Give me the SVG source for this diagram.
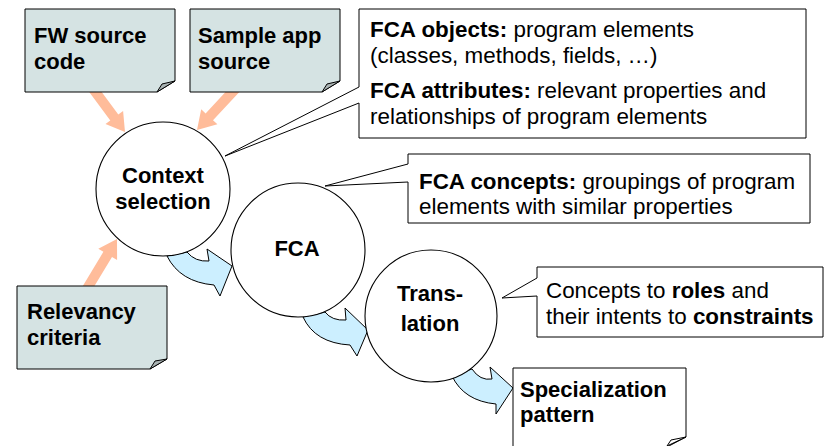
<svg xmlns="http://www.w3.org/2000/svg" width="825" height="446" viewBox="0 0 825 446">
  <style>
    .t { font-family: "Liberation Sans", Arial, sans-serif; font-size: 22px; fill: #000; }
    .c { font-size: 22.4px; }
    .b { font-weight: bold; }
    .note { fill: #d5e3e3; stroke: #000; stroke-width: 1; }
    .fold { fill: #a9b3b3; stroke: #000; stroke-width: 1; }
    .call { fill: #fff; stroke: #000; stroke-width: 1; }
    .circ { fill: #fff; stroke: #000; stroke-width: 1.1; }
    .peach { fill: #ffbc9a; stroke: none; }
    .flow { fill: #ccefff; stroke: #000; stroke-width: 1; }
  </style>
  <rect x="0" y="0" width="825" height="446" fill="#fff"/>

  <g id="connectors">
    <polygon class="peach" points="87.0,89.0 110.3,120.5 105.5,124.0 125,132 123.1,111.0 118.3,114.5 95.0,83.0"/>
    <polygon class="peach" points="234.3,82.6 205.6,113.4 201.2,109.3 197,130 217.4,124.3 213.0,120.2 241.7,89.4"/>
    <polygon class="peach" points="89.3,294.6 112.0,257.0 117.1,260.1 117,239 98.3,248.7 103.4,251.8 80.7,289.4"/>
    <path class="flow" d="M167,256 Q180,282 214,285 L220,296 L232,266 L207,249 L209,261 Q195,262 187,252 Z"/>
    <path class="flow" d="M303,317 Q315,343 350,345 L357,356 L368,330 L345,308 L346,320 Q332,321 325,312 Z"/>
    <path class="flow" d="M452,376 Q464,401 496,404 L496,414 L513,388 L490,367 L492,379 Q480,381 472,369 Z"/>
  </g>

  <g id="fw-source">
    <path class="note" d="M25,9 L175,9 L175,81 L157,92 L25,92 Z"/>
    <path class="fold" d="M157,92 L162,84 L175,81 Z"/>
    <text class="t b" x="34" y="43">FW source</text>
    <text class="t b" x="34" y="69">code</text>
  </g>

  <g id="sample-source">
    <path class="note" d="M190,9 L340,9 L340,81 L322,92 L190,92 Z"/>
    <path class="fold" d="M322,92 L327,84 L340,81 Z"/>
    <text class="t b" x="198" y="43">Sample app</text>
    <text class="t b" x="198" y="69">source</text>
  </g>

  <g id="relevancy">
    <path class="note" d="M17,286 L167,286 L167,359 L150,369 L17,369 Z"/>
    <path class="fold" d="M150,369 L155,361 L167,359 Z"/>
    <text class="t b" x="27" y="319">Relevancy</text>
    <text class="t b" x="27" y="345">criteria</text>
  </g>

  <g id="callout-objects">
    <path class="call" d="M359,9 L806,9 L806,138 L359,138 L359,103 L225,156 L359,87 Z"/>
    <text class="t c" x="370" y="37"><tspan class="b">FCA objects:</tspan> program elements</text>
    <text class="t c" x="370" y="63">(classes, methods, fields, …)</text>
    <text class="t c" x="370" y="98"><tspan class="b">FCA attributes:</tspan> relevant properties and</text>
    <text class="t c" x="370" y="124">relationships of program elements</text>
  </g>

  <g id="callout-concepts">
    <path class="call" d="M408,154 L810,154 L810,223 L408,223 L408,182 L325,186 L408,164 Z"/>
    <text class="t c" x="419" y="189"><tspan class="b">FCA concepts:</tspan> groupings of program</text>
    <text class="t c" x="419" y="214">elements with similar properties</text>
  </g>

  <g id="callout-roles">
    <path class="call" d="M537,267 L823,267 L823,337 L537,337 L537,296 L502,298 L537,278 Z"/>
    <text class="t c" x="546" y="298">Concepts to <tspan class="b">roles</tspan> and</text>
    <text class="t c" x="546" y="324">their intents to <tspan class="b">constraints</tspan></text>
  </g>

  <g id="context-selection">
    <circle class="circ" cx="163" cy="189" r="67"/>
    <text class="t b" x="163" y="183" text-anchor="middle">Context</text>
    <text class="t b" x="163" y="209" text-anchor="middle">selection</text>
  </g>

  <g id="fca">
    <circle class="circ" cx="298" cy="250" r="67"/>
    <text class="t b" x="297" y="256" text-anchor="middle">FCA</text>
  </g>

  <g id="translation">
    <circle class="circ" cx="431" cy="316" r="66"/>
    <text class="t b" x="430" y="301" text-anchor="middle">Trans-</text>
    <text class="t b" x="430" y="331" text-anchor="middle">lation</text>
  </g>

  <g id="specialization-pattern">
    <path class="call" d="M513,368 L686,368 L686,437 L667,447 L513,447 Z"/>
    <path class="call" d="M667,446 L671,440 L686,437 Z"/>
    <text class="t b" x="520" y="397">Specialization</text>
    <text class="t b" x="520" y="422">pattern</text>
  </g>
</svg>
